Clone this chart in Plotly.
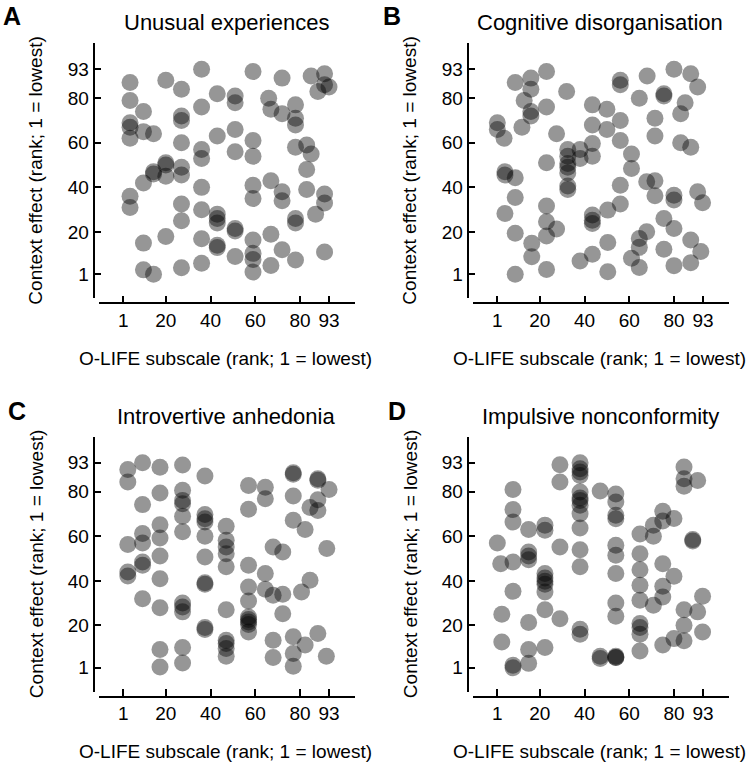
import plotly.graph_objects as go

W, H = 750, 764

ticks = [1, 20, 40, 60, 80, 93]
titles = ["Unusual experiences", "Cognitive disorganisation",
          "Introvertive anhedonia", "Impulsive nonconformity"]
letters = ["A", "B", "C", "D"]
xlabel = "O-LIFE subscale (rank; 1 = lowest)"
ylabel = "Context effect (rank; 1 = lowest)"

# Panel A: Unusual experiences
ue_x = [36, 59, 4, 20, 72, 85, 91, 91, 88, 93, 27, 4, 43, 51, 51, 66, 78, 36, 10, 67,
        72, 78, 78, 27, 27, 4, 4, 4, 10, 14.5, 43, 51, 59, 27, 36, 36, 51, 59, 78, 83,
        85, 83, 20, 20, 20, 14.5, 14.5, 10, 27, 27, 36, 4, 4, 59, 59, 67, 72, 72, 83, 91,
        91, 87, 27, 27, 36, 43, 43, 43, 51, 51, 78, 78, 10, 20, 36, 43, 43, 59, 67, 59,
        59, 59, 51, 72, 91, 67, 78, 10, 14.5, 27, 36]
ue_y = [93, 92, 87, 88, 89, 90, 91, 86, 83, 85, 84, 79, 82, 81, 78, 80, 77, 76, 74, 75,
        73, 71, 68, 72, 70, 69, 67, 62, 65, 64, 63, 66, 61, 60, 57, 53, 56, 54, 58, 59,
        55, 48, 51, 50, 45, 47, 46, 42, 49, 45.5, 40, 36, 31, 41, 35, 43, 38, 34, 39, 37,
        33, 28, 32.5, 25, 30, 28, 26, 24, 21.6, 20.4, 26, 24, 15, 18, 17, 14, 13, 16.4, 19, 10.4,
        7.7, 2, 9, 12, 11, 5, 7.4, 3, 1, 4, 6]

# Panel B: Cognitive disorganisation
cd_x = [9, 16, 16, 23, 13, 16, 16, 23, 12, 1, 1, 4, 32, 27.5, 56, 56, 68, 64.5, 75.5, 75.5,
        80, 87.5, 90.6, 85, 83, 43.5, 50, 56, 50, 43.5, 56, 71.5, 71.5, 83, 87.5, 43.5, 43.5, 38, 38, 32.5,
        32.5, 32.5, 32.5, 32.5, 32.5, 32.5, 23, 61, 61, 56, 56, 4.4, 4.4, 9, 9, 4.4, 9, 23, 23, 23,
        27.5, 16.4, 16.4, 9, 23, 43.5, 43.5, 43.5, 50.4, 50.4, 43.5, 38, 50.4, 67.8, 71.5, 71.5, 80, 80, 90.6, 92.8,
        75.5, 80, 67.8, 64.5, 64.5, 61, 64.5, 75.5, 80, 87.5, 92, 87.5]
cd_y = [87, 89, 84, 92, 79, 74, 72, 76, 67, 69, 66, 62, 83, 64, 88, 86, 90, 80, 82, 81,
        93, 91, 85, 78, 73, 77, 75, 70, 66, 68, 61, 71, 63, 60, 58, 59.7, 54, 57, 53, 57,
        54, 50.7, 49, 46.5, 40.6, 39, 51, 55, 48.5, 41, 32.5, 47, 45.5, 44.3, 35.5, 28.3, 19.4, 31.6, 24.6, 18.2,
        21.3, 14.9, 8.9, 1, 3.2, 27.6, 25.3, 23.8, 29.8, 15.3, 10, 7, 2.2, 42.5, 43, 36.2, 36.5, 34.3, 38, 33.1,
        26, 21.6, 20.1, 17.1, 13.1, 8.2, 4.1, 12.3, 4.9, 16.4, 11.2, 6.2]

# Panel C: Introvertive anhedonia
ia_x = [3, 3, 9.6, 17.4, 27.5, 37.5, 17.4, 27.5, 27.5, 27.5, 9.6, 27.5, 27.5, 37.5, 37.5, 37.5, 37.5, 17.4, 17.4, 9.6,
        9.6, 3, 9.6, 9.6, 3, 3, 17.4, 17.4, 9.6, 17.4, 27.5, 27.5, 27.5, 37.5, 37.5, 37.5, 37.5, 37.5, 47, 47,
        47, 47, 47, 47, 47, 47, 47, 47, 17.4, 17.4, 27.5, 27.5, 57, 57, 64.5, 64.5, 57, 57, 57, 57,
        57, 57, 57, 57, 64.5, 64.5, 68, 72.3, 68, 72.3, 72.3, 68, 68, 77, 77, 77, 77, 82.3, 77, 77,
        77, 82.3, 80.7, 84.5, 88, 88, 88, 88, 84.5, 93, 92, 88, 91.8]
ia_y = [90, 84.3, 93, 91, 92, 87, 79.4, 80.6, 76.1, 74.6, 74.2, 69, 62, 69.8, 67.9, 66.4, 60, 65.2, 59.2, 61.2,
        57, 56.3, 48.5, 47, 44, 42.2, 51.2, 41, 32, 27.9, 30.1, 28.3, 26.1, 50.7, 39.2, 38.5, 19.1, 18.2, 64.5, 58.2,
        55.2, 52.2, 46.3, 27.1, 13.4, 11.9, 9.7, 6.2, 9.2, 1.4, 10.1, 3.2, 82.8, 72.1, 82, 76.8, 47, 37.3, 31, 23.8,
        22.7, 21.6, 20.4, 17.1, 43.3, 36.2, 55.2, 53, 33.6, 34, 25.3, 13.4, 5.6, 88.5, 87.8, 78.1, 67.2, 63, 14.9, 7.4,
        1.7, 11.2, 35, 40.3, 85.8, 85.1, 76.4, 71.6, 72.9, 81, 54.5, 16.4, 6.2]

# Panel D: Impulsive nonconformity
in_x = [1, 2.5, 3, 3, 8, 8, 8, 8, 8, 8, 8, 15, 15, 15, 15, 15, 15, 15, 22.3, 22.3,
        22.3, 22.3, 22.3, 22.3, 22.3, 22.3, 22.3, 29, 29, 29, 29, 38, 38, 38, 38, 38, 38, 38, 38, 38,
        38, 38, 38, 38, 38, 47, 47, 47, 54, 54, 54, 54, 54, 54, 54, 54, 54, 54, 54, 54,
        64.8, 64.8, 64.8, 64.8, 64.8, 64.8, 64.8, 64.8, 64.8, 70.8, 70.8, 75, 75, 75, 75, 75, 70.8, 80, 80, 75,
        80, 84.5, 84.5, 84.5, 84.5, 84.5, 84.5, 88.4, 88.4, 90.6, 90.6, 92.8, 92.8]
in_y = [57, 47.7, 25, 12.6, 81, 72, 66.4, 48.5, 35.3, 2.2, 1, 63, 53, 51.2, 49.5, 21.3, 9.2, 3, 65, 62.7,
        43.3, 41.3, 39.8, 38.5, 35, 27.1, 10.1, 23, 55.2, 92.1, 84.3, 93, 90.3, 88.8, 87.3, 79.9, 77.2, 76.1, 73.9, 70.1,
        63.7, 54, 46.3, 18.3, 16.1, 80.3, 6.2, 5.2, 79, 75.4, 69.4, 67.9, 56, 51.5, 43.3, 30.1, 24.1, 6.2, 5.6, 5.6,
        61, 52.2, 45, 38, 31.3, 20.9, 19.1, 16.1, 8.6, 60, 29.1, 47.7, 37.6, 32.8, 71.2, 66.9, 64.9, 68, 42.1, 11.2,
        14.1, 27, 20.1, 13.1, 91.1, 85.8, 82.4, 58.5, 57.9, 85, 26.1, 33.1, 17.1]

series = [(ue_x, ue_y), (cd_x, cd_y), (ia_x, ia_y), (in_x, in_y)]

# layout geometry (pixels)
xdom_px = [(99.3, 355.3), (473.3, 729.3), (99.3, 355.3), (473.3, 729.3)]
ydom_px = [(43.0, 298.3), (43.0, 298.3), (436.5, 691.8), (436.5, 691.8)]
yline_px = [93.5, 467.5, 93.5, 467.5]
xline_px = [303.3, 303.3, 696.8, 696.8]
rng = [-9.75, 104.75]

FONT = "Liberation Sans, Arial, sans-serif"
fig = go.Figure()
layout = dict(width=W, height=H, margin=dict(l=0, r=0, t=0, b=0),
              paper_bgcolor="white", plot_bgcolor="white", showlegend=False,
              font=dict(family=FONT, color="black", size=19))
annotations = []

for i, (xs, ys) in enumerate(series):
    n = "" if i == 0 else str(i + 1)
    fig.add_trace(go.Scatter(x=xs, y=ys, mode="markers", xaxis="x" + n, yaxis="y" + n,
                             marker=dict(size=17, color="rgba(0,0,0,0.41)", line=dict(width=0)),
                             hoverinfo="skip"))
    x0, x1 = xdom_px[i]
    y0, y1 = ydom_px[i]
    common = dict(range=rng, tickvals=ticks, ticktext=[str(t) for t in ticks], ticks="inside",
                  ticklen=7, tickwidth=2, tickcolor="black", showline=True, linewidth=1.5,
                  linecolor="black", showgrid=False, zeroline=False,
                  tickfont=dict(family=FONT, size=19, color="black"), anchor="free")
    layout["xaxis" + n] = dict(common, domain=[x0 / W, x1 / W], position=1 - xline_px[i] / H)
    layout["yaxis" + n] = dict(common, domain=[1 - y1 / H, 1 - y0 / H], position=yline_px[i] / W)

    cx = (x0 + x1) / 2
    # panel title
    annotations.append(dict(text=titles[i], x=(cx - 1) / W, y=1 - (y0 - 20.5) / H,
                            xref="paper", yref="paper", showarrow=False,
                            xanchor="center", yanchor="middle", font=dict(size=22)))
    # panel letter
    lx = 12 if i in (0, 1) else 17
    lx = lx + (380 if i in (1, 3) else 0)
    ly_top = y0 - 43 if i in (0, 1) else y0 - 42
    annotations.append(dict(text="<b>" + letters[i] + "</b>", x=lx / W, y=1 - ly_top / H,
                            xref="paper", yref="paper", showarrow=False,
                            xanchor="center", yanchor="top", font=dict(size=25)))
    # axis titles
    annotations.append(dict(text=xlabel, x=(cx - 1.5) / W, y=1 - (xline_px[i] + 55) / H,
                            xref="paper", yref="paper", showarrow=False,
                            xanchor="center", yanchor="middle", font=dict(size=19)))
    annotations.append(dict(text=ylabel, x=(yline_px[i] - 57.5) / W, y=1 - ((y0 + y1) / 2) / H,
                            xref="paper", yref="paper", showarrow=False, textangle=-90,
                            xanchor="center", yanchor="middle", font=dict(size=19)))

layout["annotations"] = annotations
fig.update_layout(**layout)
fig.write_html("out.html", config={"displayModeBar": False},
               post_script="document.body.style.margin='0';document.body.style.padding='0';"
                           "document.body.style.overflow='hidden';")
